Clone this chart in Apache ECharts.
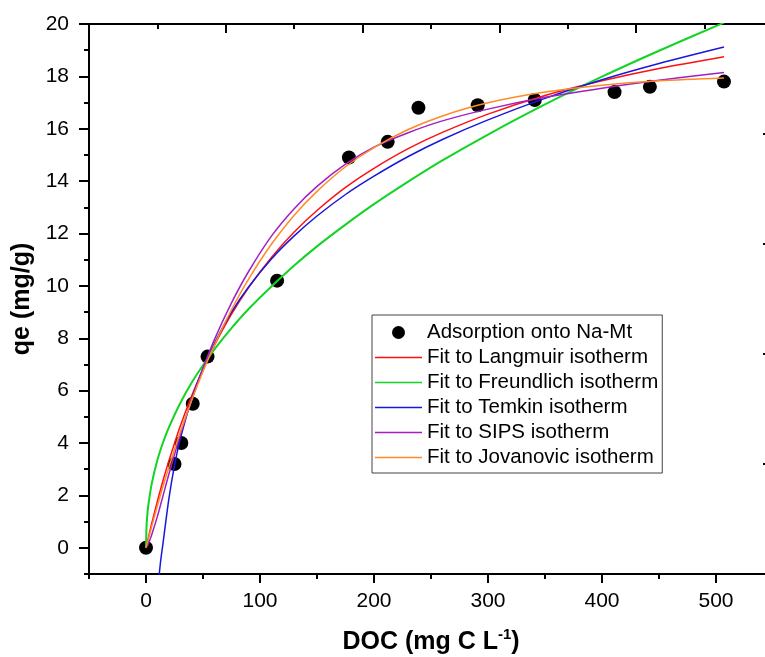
<!DOCTYPE html>
<html>
<head>
<meta charset="utf-8">
<script src="https://cdn.jsdelivr.net/npm/echarts@6/dist/echarts.min.js"></script>
<style>
html, body { margin: 0; padding: 0; background: #fff; }
#chart { width: 765px; height: 657px; }
</style>
</head>
<body>
<div id="chart"></div>
<script>
// measured points (DOC, qe)
const docValues = [0, 25, 31, 41, 54, 115, 178, 212, 239, 291, 341, 411, 442, 507];
const qeValues = [0, 3.2, 4.0, 5.5, 7.3, 10.2, 14.9, 15.5, 16.8, 16.9, 17.1, 17.4, 17.6, 17.8];

// fitted curves
const fitX = [0, 2, 5, 10, 15, 20, 30, 40, 50, 60, 75, 90, 110, 130, 150, 175, 200, 230, 260, 300, 350, 400, 450, 507];
const langmuirY = [0, 0.38, 0.93, 1.78, 2.58, 3.31, 4.64, 5.80, 6.82, 7.73, 8.92, 9.94, 11.09, 12.06, 12.88, 13.76, 14.49, 15.24, 15.86, 16.56, 17.27, 17.83, 18.30, 18.75];
const sipsY = [0, 0.15, 0.5, 1.2, 2.0, 2.8, 4.3, 5.65, 6.85, 7.95, 9.35, 10.55, 11.9, 12.95, 13.8, 14.65, 15.3, 15.85, 16.3, 16.75, 17.2, 17.55, 17.85, 18.15];
const jovanovicY = [0, 0.33, 0.82, 1.61, 2.36, 3.07, 4.41, 5.62, 6.73, 7.74, 9.09, 10.26, 11.59, 12.70, 13.61, 14.55, 15.28, 15.97, 16.49, 16.99, 17.40, 17.66, 17.83, 17.94];

const freundlichX = [0, 0.5, 1, 2, 5, 10, 15, 20, 30, 40, 50, 60, 75, 90, 110, 130, 150, 175, 200, 230, 260, 300, 350, 400, 450, 507];
const freundlichY = [0, 0.85, 1.17, 1.61, 2.44, 3.35, 4.03, 4.59, 5.52, 6.30, 6.97, 7.58, 8.39, 9.12, 9.98, 10.78, 11.51, 12.34, 13.12, 13.98, 14.79, 15.78, 16.93, 17.99, 18.98, 20.05];

const temkinX = [11.5, 13, 15, 20, 25, 30, 40, 50, 60, 75, 90, 110, 130, 150, 175, 200, 230, 260, 300, 350, 400, 450, 507];
const temkinY = [-1.05, -0.45, 0.2, 1.85, 3.15, 4.14, 5.67, 6.85, 7.81, 9.00, 9.96, 11.03, 11.91, 12.67, 13.49, 14.19, 14.94, 15.59, 16.34, 17.16, 17.87, 18.49, 19.12];

const xMajor = [0, 100, 200, 300, 400, 500];
const yMajor = [0, 2, 4, 6, 8, 10, 12, 14, 16, 18, 20];

const font = 'Arial, "Liberation Sans", sans-serif';
// thin horizontal line as legend icon (corner dots keep the 47x13 box)
const lineIcon = 'path://M0,0L0.01,0L0.01,0.01Z M0,5.8H47V7.2H0Z M46.99,12.99L47,12.99L47,13Z';

function pairs(xs, ys) {
  return xs.map((x, i) => [x, ys[i]]);
}

function fitLine(name, xs, ys, color, width) {
  return {
    name: name,
    type: 'line',
    data: pairs(xs, ys),
    smooth: 0.3,
    symbol: 'none',
    showSymbol: false,
    clip: true,
    lineStyle: { color: color, width: width },
    itemStyle: { color: color }
  };
}

const tickStyle = { color: '#000', width: 2 };

const myChart = echarts.init(document.getElementById('chart'));
myChart.setOption({
  animation: false,
  backgroundColor: '#fff',
  grid: {
    left: 89,
    top: 24,
    width: 684,
    height: 550,
    containLabel: false,
    outerBoundsMode: 'none'
  },
  legend: {
    orient: 'vertical',
    left: 372,
    top: 315,
    padding: [5, 4, 3, 3],
    itemWidth: 47,
    itemHeight: 13,
    itemGap: 0,
    backgroundColor: '#fff',
    borderColor: '#444',
    borderWidth: 1,
    borderRadius: 0,
    textStyle: { fontSize: 20.5, color: '#000', fontFamily: font, lineHeight: 25 },
    data: [
      { name: 'Adsorption onto Na-Mt', icon: 'circle' },
      { name: 'Fit to Langmuir isotherm', icon: lineIcon },
      { name: 'Fit to Freundlich isotherm', icon: lineIcon },
      { name: 'Fit to Temkin isotherm', icon: lineIcon },
      { name: 'Fit to SIPS isotherm', icon: lineIcon },
      { name: 'Fit to Jovanovic isotherm', icon: lineIcon }
    ]
  },
  xAxis: [
    {
      type: 'value',
      position: 'bottom',
      min: -50,
      max: 550,
      interval: 50,
      name: 'DOC (mg C L{sup|-1})',
      nameLocation: 'middle',
      nameGap: 53,
      nameTextStyle: {
        fontSize: 25, fontWeight: 'bold', color: '#000', fontFamily: font, lineHeight: 30,
        rich: { sup: { fontSize: 15, fontWeight: 'bold', color: '#000', fontFamily: font, verticalAlign: 'top', lineHeight: 30 } }
      },
      axisLine: { onZero: false, lineStyle: tickStyle },
      axisTick: { length: 5, lineStyle: tickStyle },
      axisLabel: {
        fontSize: 21, color: '#000', fontFamily: font, margin: 17,
        formatter: v => (v >= 0 && v <= 500 && v % 100 === 0) ? String(v) : ''
      },
      splitLine: { show: false }
    },
    {
      type: 'value',
      position: 'bottom',
      min: -50,
      max: 550,
      axisLine: { show: false, onZero: false },
      axisTick: { customValues: xMajor, length: 9, lineStyle: tickStyle },
      axisLabel: { show: false },
      splitLine: { show: false }
    },
    {
      type: 'value',
      position: 'top',
      min: 0,
      max: 5,
      interval: 1,
      axisLine: { onZero: false, lineStyle: tickStyle },
      axisTick: { inside: true, length: 9, lineStyle: tickStyle },
      minorTick: { show: true, splitNumber: 2, length: 5, lineStyle: tickStyle },
      axisLabel: { show: false },
      splitLine: { show: false }
    }
  ],
  yAxis: [
    {
      type: 'value',
      position: 'left',
      min: -1,
      max: 20,
      interval: 1,
      name: 'qe (mg/g)',
      nameLocation: 'middle',
      nameGap: 46,
      nameTextStyle: { fontSize: 25, fontWeight: 'bold', color: '#000', fontFamily: font },
      axisLine: { onZero: false, lineStyle: tickStyle },
      axisTick: { length: 5, lineStyle: tickStyle },
      axisLabel: {
        fontSize: 21, color: '#000', fontFamily: font, margin: 20,
        formatter: v => (v >= 0 && v % 2 === 0) ? String(v) : ''
      },
      splitLine: { show: false }
    },
    {
      type: 'value',
      position: 'left',
      min: -1,
      max: 20,
      axisLine: { show: false, onZero: false },
      axisTick: { customValues: yMajor, length: 10, lineStyle: tickStyle },
      axisLabel: { show: false },
      splitLine: { show: false }
    },
    {
      type: 'value',
      position: 'right',
      min: 0,
      max: 5,
      interval: 1,
      axisLine: { onZero: false, lineStyle: tickStyle },
      axisTick: { inside: true, length: 10, lineStyle: tickStyle },
      minorTick: { show: true, splitNumber: 2, length: 5, lineStyle: tickStyle },
      axisLabel: { show: false },
      splitLine: { show: false }
    }
  ],
  series: [
    {
      name: 'Adsorption onto Na-Mt',
      type: 'scatter',
      data: pairs(docValues, qeValues),
      symbol: 'circle',
      symbolSize: 14,
      itemStyle: { color: '#000', opacity: 1 }
    },
    fitLine('Fit to Langmuir isotherm', fitX, langmuirY, '#ff1010', 1.5),
    fitLine('Fit to Freundlich isotherm', freundlichX, freundlichY, '#12d424', 2),
    fitLine('Fit to Temkin isotherm', temkinX, temkinY, '#1818dc', 1.5),
    fitLine('Fit to SIPS isotherm', fitX, sipsY, '#a21fc4', 1.5),
    fitLine('Fit to Jovanovic isotherm', fitX, jovanovicY, '#ff8a26', 1.5)
  ]
});
</script>
</body>
</html>
